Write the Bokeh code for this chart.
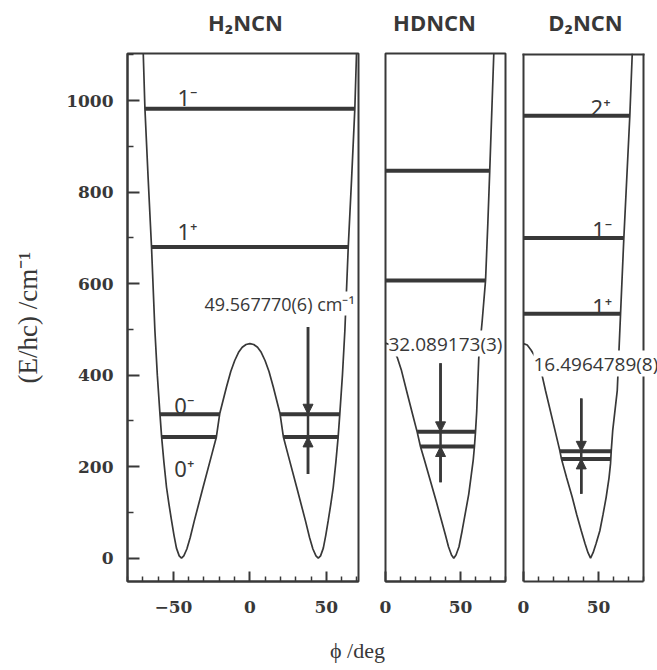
from bokeh.plotting import figure
from bokeh.layouts import row, column
from bokeh.models import Range1d, FixedTicker, Label, Arrow, NormalHead
from bokeh.embed import file_html
from bokeh.resources import INLINE
from bokeh.core.properties import value

INK = "#383838"

# ---------------- data ----------------
titles = ["H\u2082NCN", "HDNCN", "D\u2082NCN"]

# potential curves, phi / deg and (E/hc) / cm^-1
h2_phi = [-69.7, -68.6, -66.5, -64.3, -62.1, -60.5, -58.8, -57.7, -56.2, -54.5, -52.9,
          -51.2, -49.6, -48.0, -46.2, -44.7, -43.2, -41.2, -39.0, -36.3, -30.6,
          -24.8, -21.9, -19.7, -15.3, -12.5, -9.9, -7.4, -5.0, -2.5, 0.0,
          2.5, 5.0, 7.4, 9.9, 12.5, 15.3, 19.7, 21.9, 24.8, 30.6,
          36.3, 39.0, 41.2, 43.2, 44.7, 46.2, 48.0, 49.6, 51.2, 52.9,
          54.5, 56.2, 57.7, 58.8, 60.5, 62.1, 64.3, 66.5, 68.6, 69.7]
h2_V = [1103, 982, 830, 680, 498, 400, 316, 265, 210, 155, 118,
        82, 50, 22, 5, 0, 5, 20, 45, 82, 155,
        228, 265, 316, 374, 408, 432, 450, 461, 467, 469,
        467, 461, 450, 432, 408, 374, 316, 265, 228, 155,
        82, 45, 20, 5, 0, 5, 22, 50, 82, 118,
        155, 210, 265, 316, 400, 498, 680, 830, 982, 1103]

hd_phi = [0.0, 2.5, 5.0, 7.8, 10.5, 14.5, 18.0, 21.1, 23.3, 26.0, 30.0,
          34.0, 37.5, 40.0, 42.0, 44.0, 45.5, 47.0, 49.0, 51.1, 53.3,
          55.5, 57.3, 58.5, 59.3, 60.0, 60.8, 62.2, 64.5, 66.7, 68.2, 69.5, 72.2]
hd_V = [470, 467, 458, 439, 412, 360, 315, 276, 244, 214, 168,
        122, 80, 50, 25, 7, 0, 7, 25, 60, 100,
        140, 185, 215, 244, 276, 320, 439, 520, 607, 730, 847, 1103]

d2_phi = [0.0, 2.5, 5.0, 7.5, 10.2, 12.5, 14.7, 19.5, 24.2, 25.3, 28.8,
          32.5, 35.5, 38.5, 41.0, 43.0, 44.7, 46.4, 48.4, 50.9, 53.0,
          55.1, 57.0, 58.0, 58.5, 59.5, 62.5, 64.7, 66.9, 70.9, 72.5]
d2_V = [469, 466, 455, 442, 425, 398, 366, 300, 235, 217, 175,
        133, 95, 60, 32, 12, 0, 12, 32, 60, 95,
        133, 175, 206, 235, 280, 366, 534, 700, 968, 1103]

# tunnelling splittings / cm^-1 and their labels
split_vals = [49.567770, 32.089173, 16.4964789]
split_text = ["49.567770(6) cm\u207b\u00b9", "32.089173(3)", "16.4964789(8)"]

# energy levels: energy, left end, right end
h2_lev_E = [982, 680, 265 + 49.567770, 265 + 49.567770, 265, 265]
h2_lev_x0 = [-68.6, -64.3, -58.8, 19.7, -57.7, 21.9]
h2_lev_x1 = [68.6, 64.3, -19.7, 58.8, -21.9, 57.7]
h2_lab = ["1\u207b", "1\u207a", "0\u207b", "0\u207a"]
h2_lab_x = [-47.3, -47.3, -49.4, -49.4]
h2_lab_y = [1007, 716, 334, 196]

hd_lev_E = [847, 607, 244 + 32.089173, 244]
hd_lev_x0 = [0.0, 0.0, 21.1, 23.3]
hd_lev_x1 = [69.5, 66.7, 60.0, 59.3]

d2_lev_E = [967, 700, 534, 217 + 16.4964789, 217]
d2_lev_x0 = [0.0, 0.0, 0.0, 24.3, 25.2]
d2_lev_x1 = [70.9, 66.9, 64.7, 58.6, 58.2]
d2_lab = ["2\u207a", "1\u207b", "1\u207a"]
d2_lab_x = [44.7, 45.8, 45.8]
d2_lab_y = [986, 720, 552]

# arrows: x, shaft top, shaft bottom, lower level
arr_x = [38.0, 36.7, 38.5]
arr_top = [505, 426, 349]
arr_bot = [184, 166, 141]
arr_low = [265, 244, 217]

y_major = [0, 200, 400, 600, 800, 1000]
y_minor = [100, 300, 500, 700, 900, 1100]

# axis extents
Y_LO, Y_HI = -51, 1103
D2_X_LO, D2_X_HI = 0, 80

# ---------------- layout constants (pixels) ----------------
FRAME_H = 528
TOP_H = 51
ANN_POS = [(77, 278, "18px"), (3, 238, "19px"), (12, 218, "19px")]   # from frame bottom-left
TITLE_X = [245, 434, 585]


def style_axes(p, x_major, x_minor, show_y):
    xa = p.xaxis[0]
    xa.ticker = FixedTicker(ticks=x_major, minor_ticks=x_minor)
    xa.major_tick_in = 10
    xa.major_tick_out = 0
    xa.minor_tick_in = 5
    xa.minor_tick_out = 0
    xa.axis_line_width = 2
    xa.axis_line_color = INK
    xa.major_tick_line_color = INK
    xa.major_tick_line_width = 2
    xa.minor_tick_line_color = INK
    xa.minor_tick_line_width = 1.5
    xa.major_label_text_font = "DejaVu Serif"
    xa.major_label_text_font_size = "17px"
    xa.major_label_text_font_style = "bold"
    xa.major_label_text_color = INK
    xa.major_label_standoff = 19
    if show_y:
        ya = p.yaxis[0]
        ya.ticker = FixedTicker(ticks=y_major, minor_ticks=y_minor)
        ya.major_tick_in = 12
        ya.major_tick_out = 0
        ya.minor_tick_in = 6
        ya.minor_tick_out = 0
        ya.axis_line_width = 2
        ya.axis_line_color = INK
        ya.major_tick_line_color = INK
        ya.major_tick_line_width = 2
        ya.minor_tick_line_color = INK
        ya.minor_tick_line_width = 1.5
        ya.major_label_text_font = "DejaVu Serif"
        ya.major_label_text_font_size = "17px"
        ya.major_label_text_font_style = "bold"
        ya.major_label_text_color = INK
        ya.major_label_standoff = 14
        ya.axis_label = "(E/hc) /cm\u207b\u00b9"
        ya.axis_label_text_font = "Liberation Serif"
        ya.axis_label_text_font_size = "27px"
        ya.axis_label_text_font_style = "normal"
        ya.axis_label_text_color = INK
        ya.axis_label_standoff = 20


def make_panel(xr, frame_w, mbl, mbr, x_major, x_minor, show_y, outline=True):
    p = figure(output_backend="svg", toolbar_location=None, tools="",
               frame_width=frame_w, frame_height=FRAME_H,
               x_range=Range1d(*xr), y_range=Range1d(Y_LO, Y_HI),
               min_border_left=mbl, min_border_right=mbr,
               min_border_top=2, min_border_bottom=37,
               y_axis_location="left" if show_y else None)
    p.grid.visible = False
    if outline:
        p.outline_line_color = INK
        p.outline_line_width = 2
        p.outline_line_alpha = 1
    else:
        p.outline_line_color = None
    p.background_fill_color = "white"
    p.border_fill_color = "white"
    style_axes(p, x_major, x_minor, show_y)
    return p


def add_common(p, phi, V, lx0, lx1, lE, i):
    p.line(phi, V, line_color=INK, line_width=1.7)
    p.segment(x0=lx0, y0=lE, x1=lx1, y1=lE, line_color=INK, line_width=4)
    x = arr_x[i]
    up = arr_low[i] + split_vals[i]
    p.segment(x0=[x], y0=[arr_bot[i]], x1=[x], y1=[arr_top[i]], line_color=INK, line_width=2.5)
    p.add_layout(Arrow(end=NormalHead(size=10, fill_color=INK, line_color=INK, line_width=1),
                       x_start=x, y_start=arr_top[i], x_end=x, y_end=up,
                       line_color=INK, line_width=2.5))
    p.add_layout(Arrow(end=NormalHead(size=10, fill_color=INK, line_color=INK, line_width=1),
                       x_start=x, y_start=arr_bot[i], x_end=x, y_end=arr_low[i],
                       line_color=INK, line_width=2.5))
    sx, sy, fs = ANN_POS[i]
    p.add_layout(Label(x=sx, y=sy, x_units="screen", y_units="screen", text=split_text[i],
                       text_font="Open Sans", text_font_size=fs,
                       text_color=INK, text_align="left", text_baseline="middle",
                       background_fill_color="white", background_fill_alpha=1.0))


# title strip
t = figure(output_backend="svg", toolbar_location=None, tools="",
           width=657, height=TOP_H, x_range=Range1d(0, 657), y_range=Range1d(0, TOP_H),
           min_border=0, x_axis_location=None, y_axis_location=None)
t.grid.visible = False
t.outline_line_color = None
t.text(x=TITLE_X, y=[TOP_H - 21] * 3, text=titles, text_font=value("Open Sans"),
       text_font_size="22px", text_font_style="bold", text_color=INK,
       text_align="center", text_baseline="middle")

# panel 1: H2NCN
p1 = make_panel((-80, 71), 231, 127, 14, [-50, 0, 50],
                [-80, -70, -60, -40, -30, -20, -10, 10, 20, 30, 40, 60, 70], True)
add_common(p1, h2_phi, h2_V, h2_lev_x0, h2_lev_x1, h2_lev_E, 0)
p1.text(x=h2_lab_x, y=h2_lab_y, text=h2_lab, text_font=value("Noto Sans"),
        text_font_size="22px", text_color=INK, text_align="left", text_baseline="alphabetic")

# panel 2: HDNCN
p2 = make_panel((0, 80), 120, 13, 9, [0, 50], [10, 20, 30, 40, 60, 70, 80], False)
add_common(p2, hd_phi, hd_V, hd_lev_x0, hd_lev_x1, hd_lev_E, 1)

# panel 3: D2NCN -- frame widened to the right (and 2 px to the left) so the
# splitting label may run past the box; the box is drawn at the axis extents
px_per_unit = 1.5
p3 = make_panel((D2_X_LO - 2 / px_per_unit, D2_X_LO + 134 / px_per_unit), 136, 7, 0,
                [0, 50], [10, 20, 30, 40, 60, 70, 80], False, outline=False)
p3.xaxis[0].bounds = (D2_X_LO, D2_X_HI)
p3.segment(x0=[D2_X_LO, D2_X_HI], y0=[Y_LO, Y_LO], x1=[D2_X_LO, D2_X_HI], y1=[Y_HI, Y_HI],
           line_color=INK, line_width=2)
p3.segment(x0=[D2_X_LO - 1 / px_per_unit], y0=[Y_HI], x1=[D2_X_HI + 1 / px_per_unit], y1=[Y_HI],
           line_color=INK, line_width=4)
add_common(p3, d2_phi, d2_V, d2_lev_x0, d2_lev_x1, d2_lev_E, 2)
p3.text(x=d2_lab_x, y=d2_lab_y, text=d2_lab, text_font=value("Noto Sans"),
        text_font_size="22px", text_color=INK, text_align="left", text_baseline="alphabetic")

# shared x-axis caption strip
s = figure(output_backend="svg", toolbar_location=None, tools="",
           width=657, height=48, x_range=Range1d(0, 657), y_range=Range1d(0, 48),
           min_border=0, x_axis_location=None, y_axis_location=None)
s.grid.visible = False
s.outline_line_color = None
s.text(x=[357], y=[16], text=["\u03d5 /deg"], text_font=value("Liberation Serif"),
       text_font_size="22px", text_color=INK, text_align="center", text_baseline="alphabetic")

layout = column(t, row(p1, p2, p3), s)
open("out.html", "w").write(file_html(layout, INLINE))
